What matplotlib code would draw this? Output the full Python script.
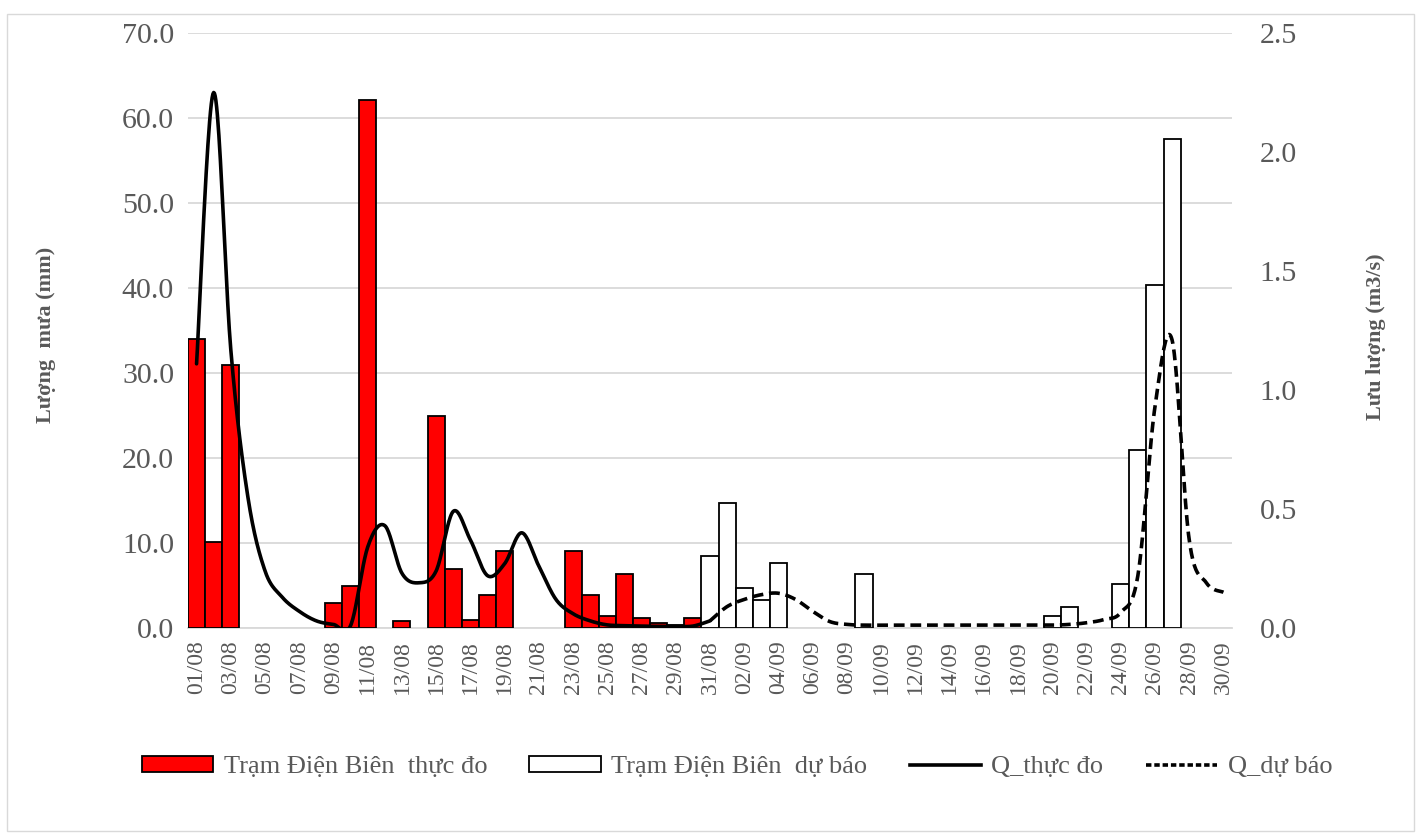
import numpy as np
import matplotlib
matplotlib.use("Agg")
import matplotlib.pyplot as plt
from matplotlib.patches import Patch, Rectangle
from matplotlib.lines import Line2D

# ---------------- data ----------------
dates = ["01/08", "02/08", "03/08", "04/08", "05/08", "06/08", "07/08", "08/08", "09/08", "10/08",
         "11/08", "12/08", "13/08", "14/08", "15/08", "16/08", "17/08", "18/08", "19/08", "20/08",
         "21/08", "22/08", "23/08", "24/08", "25/08", "26/08", "27/08", "28/08", "29/08", "30/08",
         "31/08", "01/09", "02/09", "03/09", "04/09", "05/09", "06/09", "07/09", "08/09", "09/09",
         "10/09", "11/09", "12/09", "13/09", "14/09", "15/09", "16/09", "17/09", "18/09", "19/09",
         "20/09", "21/09", "22/09", "23/09", "24/09", "25/09", "26/09", "27/09", "28/09", "29/09",
         "30/09"]

# rainfall observed, 01/08 - 30/08 (mm)
rain_obs = [34.0, 10.1, 30.9, 0, 0, 0, 0, 0, 3.0, 4.9,
            62.1, 0, 0.8, 0, 24.9, 7.0, 1.0, 3.9, 9.1, 0,
            0, 0, 9.1, 3.9, 1.4, 6.3, 1.2, 0.6, 0.3, 1.2]
# rainfall forecast, 31/08 - 30/09 (mm)
rain_fc = [8.5, 14.7, 4.7, 3.3, 7.7, 0, 0, 0, 0, 6.4,
           0, 0, 0, 0, 0, 0, 0, 0, 0, 0,
           1.4, 2.5, 0, 0, 5.2, 21.0, 40.4, 57.5, 0, 0, 0]
# discharge observed, 01/08 - 31/08 (m3/s)
q_obs = [1.11, 2.25, 1.17, 0.55, 0.24, 0.13, 0.07, 0.03, 0.015, 0.01,
         0.34, 0.43, 0.23, 0.19, 0.24, 0.49, 0.37, 0.22, 0.27, 0.40,
         0.26, 0.12, 0.06, 0.03, 0.013, 0.01, 0.008, 0.007, 0.007, 0.008,
         0.03]
# discharge forecast, 31/08 - 30/09 (m3/s)
q_fc = [0.03, 0.09, 0.12, 0.14, 0.146, 0.12, 0.07, 0.027, 0.015, 0.012,
        0.012, 0.012, 0.012, 0.012, 0.012, 0.012, 0.012, 0.012, 0.012, 0.012,
        0.012, 0.015, 0.022, 0.035, 0.065, 0.22, 0.93, 1.21, 0.37, 0.19,
        0.15]

labels = ["Trạm Điện Biên  thực đo", "Trạm Điện Biên  dự báo", "Q_thực đo", "Q_dự báo"]
left_title = "Lượng  mưa (mm)"
right_title = "Lưu lượng (m3/s)"

# ---------------- style ----------------
FONT = ["Liberation Serif", "DejaVu Serif"]
plt.rcParams["font.family"] = FONT
GRAY = "#595959"
GRID = "#d9d9d9"

W, H = 1419, 834
fig = plt.figure(figsize=(W / 100, H / 100), dpi=100)
fig.patches.append(Rectangle((7 / W, 1 - 831 / H), (1414 - 7) / W, (831 - 14) / H,
                             transform=fig.transFigure, fill=False,
                             edgecolor=GRID, linewidth=1.0))

ax = fig.add_axes([188 / W, 1 - 628 / H, (1232 - 188) / W, (628 - 33) / H])
ax2 = ax.twinx()

n = len(dates)
x_all = np.arange(n)
x_obs = np.arange(len(rain_obs))
x_fc = np.arange(len(rain_obs), n)

ro = np.array(rain_obs, dtype=float)
rf = np.array(rain_fc, dtype=float)
mo = ro > 0
mf = rf > 0
ax.bar(x_obs[mo], ro[mo], width=1.0, color="#FF0000", edgecolor="black",
       linewidth=1.3, zorder=3)
ax.bar(x_fc[mf], rf[mf], width=1.0, color="white", edgecolor="black",
       linewidth=1.3, zorder=3)


def smooth(xs, ys, k=24):
    pts = np.column_stack([xs, ys]).astype(float)
    P = np.vstack([pts[0], pts, pts[-1]])
    out = []
    t = np.linspace(0, 1, k)[:, None]
    for i in range(1, len(P) - 2):
        p0, p1, p2, p3 = P[i - 1], P[i], P[i + 1], P[i + 2]
        c1 = p1 + (p2 - p0) / 6.0
        c2 = p2 - (p3 - p1) / 6.0
        seg = ((1 - t) ** 3) * p1 + 3 * ((1 - t) ** 2) * t * c1 + 3 * (1 - t) * t ** 2 * c2 + t ** 3 * p2
        out.append(seg if i == 1 else seg[1:])
    return np.vstack(out)


xq_obs = np.arange(len(q_obs))
xq_fc = np.arange(n - len(q_fc), n)
s1 = smooth(xq_obs, q_obs)
s2 = smooth(xq_fc, q_fc)
ax2.plot(s1[:, 0], s1[:, 1], color="black", linewidth=2.6, solid_capstyle="round", zorder=4)
ax2.plot(s2[:, 0], s2[:, 1], color="black", linewidth=2.6, linestyle=(0, (3.0, 1.6)), zorder=4)

# axes
ax.set_xlim(-0.5, n - 0.5)
ax.set_ylim(0, 70)
ax2.set_ylim(0, 2.5)
lt = np.arange(0, 71, 10)
ax.set_yticks(lt)
ax.set_yticklabels([f"{v:.1f}" for v in lt])
rt = np.arange(0, 2.51, 0.5)
ax2.set_yticks(rt)
ax2.set_yticklabels([f"{v:.1f}" for v in rt])
ax.set_xticks(x_all[::2])
ax.set_xticklabels(dates[::2], rotation=90, va="top", ha="center")

ax.grid(axis="y", color=GRID, linewidth=1.3, zorder=0)
ax.set_axisbelow(True)
for a in (ax, ax2):
    for s in a.spines.values():
        s.set_visible(False)
ax.spines["bottom"].set_visible(True)
ax.spines["bottom"].set_color(GRID)
ax.spines["bottom"].set_linewidth(1.3)

ax.tick_params(axis="y", length=0, pad=10, labelsize=21.5, labelcolor=GRAY)
ax2.tick_params(axis="y", length=0, pad=20, labelsize=21.5, labelcolor=GRAY)
ax.tick_params(axis="x", length=0, pad=9, labelsize=17, labelcolor=GRAY)

fig.text(46 / W, 1 - 335 / H, left_title, rotation=90, ha="center", va="center",
         fontsize=16, fontweight="bold", color=GRAY)
fig.text(1376 / W, 1 - 337 / H, right_title, rotation=90, ha="center", va="center",
         fontsize=16, fontweight="bold", color=GRAY)

handles = [Patch(facecolor="#FF0000", edgecolor="black", linewidth=1.3),
           Patch(facecolor="white", edgecolor="black", linewidth=1.3),
           Line2D([], [], color="black", linewidth=2.6),
           Line2D([], [], color="black", linewidth=2.6, linestyle=(0, (1.5, 0.8)))]
fig.legend(handles, labels, loc="center", bbox_to_anchor=(737 / W, 1 - 767 / H), ncol=4,
           frameon=False, fontsize=19, labelcolor=GRAY, handlelength=2.7,
           handleheight=0.6, handletextpad=0.4, columnspacing=1.6)

fig.savefig("out.png", dpi=100)
